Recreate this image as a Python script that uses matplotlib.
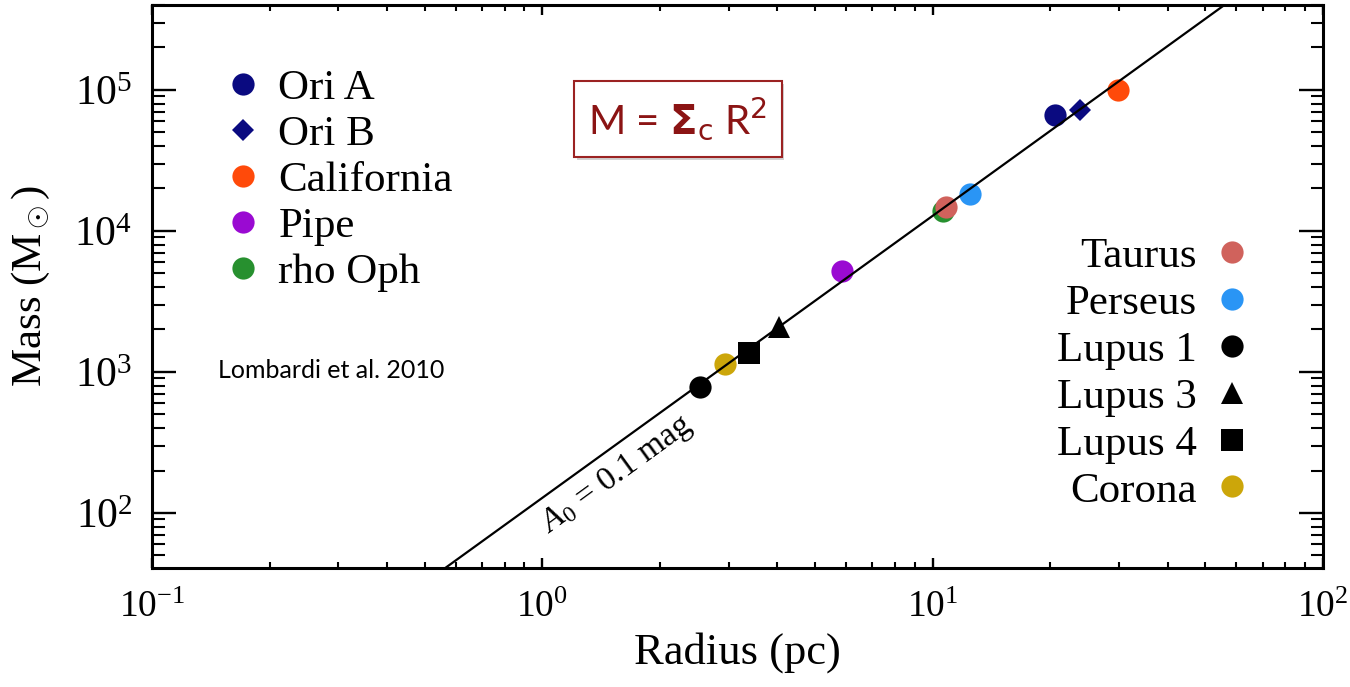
import matplotlib
matplotlib.use('Agg')
import matplotlib.pyplot as plt
import matplotlib.patheffects as pe
from matplotlib.lines import Line2D
import numpy as np

plt.rcParams['font.family'] = 'serif'
plt.rcParams['font.serif'] = ['Liberation Serif', 'DejaVu Serif']
plt.rcParams['mathtext.fontset'] = 'custom'
plt.rcParams['mathtext.rm'] = 'Liberation Serif'
plt.rcParams['mathtext.it'] = 'Liberation Serif:italic'
plt.rcParams['mathtext.bf'] = 'Liberation Serif:bold'

# cloud name, radius (pc), mass (Msun), marker, colour
left_names = ['Ori A', 'Ori B', 'California', 'Pipe', 'rho Oph']
left_radius = [20.6, 23.9, 29.8, 5.85, 10.6]
left_mass = [66600, 72100, 100000, 5220, 13900]
left_markers = ['o', 'D', 'o', 'o', 'o']
left_colors = ['#0a0a80', '#0a0a80', '#ff4a0a', '#9a0ad2', '#27902f']

right_names = ['Taurus', 'Perseus', 'Lupus 1', 'Lupus 3', 'Lupus 4', 'Corona']
right_radius = [10.8, 12.45, 2.54, 4.05, 3.38, 2.93]
right_mass = [14800, 18300, 787, 2095, 1371, 1140]
right_markers = ['o', 'o', 'o', '^', 's', 'o']
right_colors = ['#d0625c', '#2a95f5', 'black', 'black', 'black', '#cca60a']

# surface density of the A0 = 0.1 mag relation, M = Sigma_c R^2
sigma_c = 128.0

fontsize = 31


def marker_size(m):
    return 11.5 if m == 'D' else 16


fig = plt.figure(figsize=(13.5, 6.87), dpi=100)
ax = fig.add_axes([0.1126, 0.1732, 0.8674, 0.8195])

r = np.logspace(-1, 2, 200)
ax.plot(r, sigma_c * r ** 2, color='black', lw=1.6, zorder=3)

left_handles = []
for name, x, y, m, c in zip(left_names, left_radius, left_mass, left_markers, left_colors):
    ax.plot([x], [y], linestyle='none', marker=m, ms=marker_size(m), color=c, mew=0, zorder=2)
    left_handles.append(Line2D([], [], linestyle='none', marker=m, ms=marker_size(m),
                               color=c, mew=0, label=name))

right_handles = []
for name, x, y, m, c in zip(right_names, right_radius, right_mass, right_markers, right_colors):
    ax.plot([x], [y], linestyle='none', marker=m, ms=marker_size(m), color=c, mew=0, zorder=2)
    right_handles.append(Line2D([], [], linestyle='none', marker=m, ms=marker_size(m),
                                color=c, mew=0, label=name))

ax.set_xscale('log')
ax.set_yscale('log')
ax.set_xlim(0.1, 100)
ax.set_ylim(40.7, 4.0e5)

for s in ax.spines.values():
    s.set_linewidth(2.2)
ax.tick_params(which='both', direction='in', top=True, right=True)
ax.tick_params(axis='y', which='major', length=17, width=1.7, pad=14, labelsize=30)
ax.tick_params(axis='y', which='minor', length=9, width=1.5)
ax.tick_params(axis='x', which='major', length=7.5, width=1.7, pad=16, labelsize=27)
ax.tick_params(axis='x', which='minor', length=4.5, width=1.5)
ax.yaxis.set_minor_locator(matplotlib.ticker.LogLocator(base=10, subs=np.arange(2, 10)))

ax.set_xlabel('Radius (pc)', fontsize=32, labelpad=5)
ax.set_ylabel(r'Mass (M$_\odot$)', fontsize=31, labelpad=16)

leg1 = ax.legend(handles=left_handles, loc='upper left', bbox_to_anchor=(0.063, 0.886),
                 frameon=False, fontsize=fontsize, handlelength=0.8, handletextpad=0.42,
                 labelspacing=0.16, borderpad=0, borderaxespad=0)
ax.add_artist(leg1)
ax.legend(handles=right_handles, loc='upper right', bbox_to_anchor=(0.937, 0.588),
          frameon=False, fontsize=fontsize, handlelength=0.8, handletextpad=0.42,
          labelspacing=0.18, borderpad=0, borderaxespad=0, markerfirst=False)

ax.text(1.554, 186, r'$A_0$ = 0.1 mag', fontsize=24, rotation=36,
        rotation_mode='anchor', ha='center', va='center')

ax.text(0.0562, 0.3517, 'Lombardi et al. 2010', transform=ax.transAxes, fontsize=18,
        family='Lato', ha='left', va='center')

eq = fig.text(0.502, 0.827, r'M = $\mathbf{\Sigma}_{\rm c}$ R$^2$', fontsize=29, family='Lato',
              math_fontfamily='dejavusans', color='#8b1414', ha='center', va='center',
              bbox=dict(boxstyle='square,pad=0.36', fc='white', ec='#9b2222', lw=1.5))
eq.get_bbox_patch().set_path_effects([pe.withSimplePatchShadow(offset=(2, -2), alpha=0.25)])

fig.savefig('out.png', dpi=100)
